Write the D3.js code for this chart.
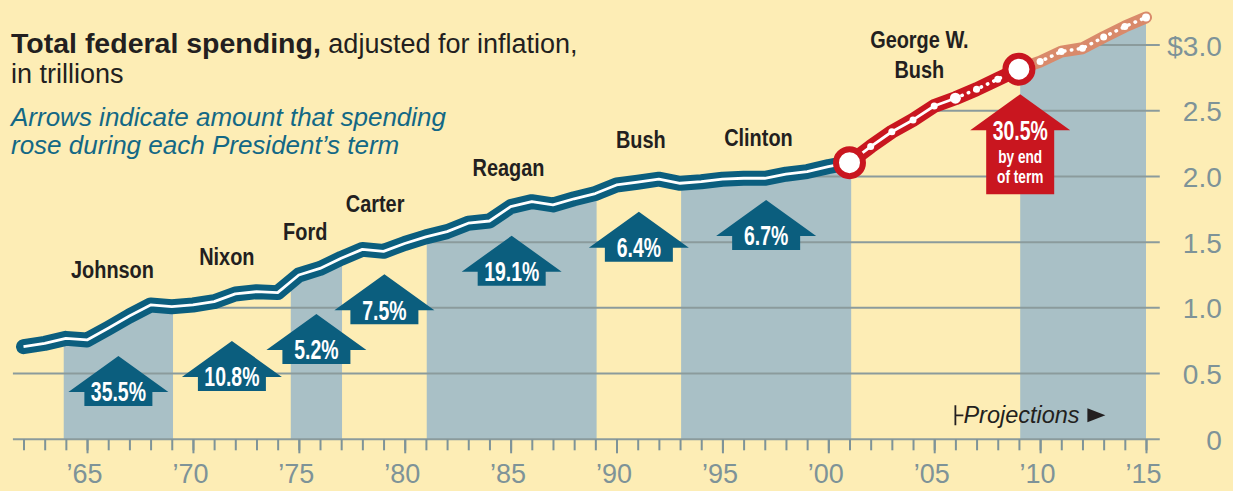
<!DOCTYPE html>
<html>
<head>
<meta charset="utf-8">
<script src="https://cdn.jsdelivr.net/npm/d3@7/dist/d3.min.js"></script>
<style>
  body { margin: 0; background: #fdedb5; }
  svg { display: block; }
</style>
</head>
<body>
<div class="main_contain"></div>
<script>
// spending per fiscal year, trillions (inflation adjusted)
var years = d3.range(1962, 2016);
var spending = [0.705, 0.73, 0.768, 0.756, 0.845, 0.938, 1.022, 1.009, 1.022, 1.047,
                1.106, 1.123, 1.116, 1.25, 1.30, 1.377, 1.445, 1.43, 1.49, 1.54,
                1.58, 1.644, 1.661, 1.77, 1.808, 1.783, 1.83, 1.87, 1.935, 1.956,
                1.979, 1.948, 1.96, 1.979, 1.986, 1.986, 2.017, 2.037, 2.075, 2.105,
                2.227, 2.34, 2.43, 2.536, 2.595, 2.663, 2.74, 2.816, 2.874, 2.95,
                2.975, 3.06, 3.14, 3.21];

var presidents = ["Johnson", "Nixon", "Ford", "Carter", "Reagan", "Bush", "Clinton", "George W.|Bush"];
var termStart  = [1963.9, 1969.06, 1974.62, 1977.04, 1981.04, 1989.06, 1993.05, 2001.08];
var termEnd    = [1969.06, 1974.62, 1977.04, 1981.04, 1989.06, 1993.05, 2001.08, 2009.06];
var pctRise    = ["35.5%", "10.8%", "5.2%", "7.5%", "19.1%", "6.4%", "6.7%", "30.5%"];
// where the arrow tip sits and where the name sits, in chart units (year, trillions)
var arrowTip   = [0.634, 0.748, 0.954, 1.256, 1.549, 1.732, 1.821, 2.626];
var labelYear  = [1966.2, 1971.6, 1975.3, 1978.6, 1984.9, 1991.15, 1996.7, 2004.3];
var labelValue = [1.227, 1.326, 1.516, 1.727, 2.006, 2.217, 2.232, 2.98];

var shadedBands = [[1963.9, 1969.06], [1974.62, 1977.04], [1981.04, 1989.06], [1993.05, 2001.08], [2009.06, 2015]];
var yTicks = [0, 0.5, 1, 1.5, 2, 2.5, 3];
var majorYears = [1965, 1970, 1975, 1980, 1985, 1990, 1995, 2000, 2005, 2010, 2015];
var actualEnd = 2006;   // projections start
var bushStart = 2001, bushEnd = 2009;

var data = years.map((yr, i) => ({year: yr, value: spending[i]}));

var svg_width = 1233, svg_height = 491;
var teal = "#0b5e7e", red = "#c9161f", salmon = "#d98a6b",
    band = "#a9c0c6", grid = "#8b9b9c", axisGrey = "#7e9398";

var svg = d3.select(".main_contain").append("svg")
            .attr("width", svg_width)
            .attr("height", svg_height)
            .style("background", "#fdedb5");

var x = d3.scaleLinear().domain([1962, 2015]).range([23.5, 1146]);
var y = d3.scaleLinear().domain([0, 3]).range([439.3, 45]);

var gridLeft = x(1961.5), gridRight = x(2015.65);

// year where the curve first reaches a value (gridlines only run below the curve)
function crossing(v){
  for (var i = 1; i < data.length; i++) {
    var a = data[i - 1], b = data[i];
    if (a.value < v && b.value >= v) {
      return a.year + (v - a.value) / (b.value - a.value);
    }
  }
  return null;
}

// shaded presidential terms, filled up to the curve
var area = d3.area().x(d => x(d.year)).y0(y(0)).y1(d => y(d.value));
var defs = svg.append("defs");
shadedBands.forEach(function(b, i){
  defs.append("clipPath").attr("id", "band" + i)
      .append("rect")
      .attr("x", x(b[0])).attr("width", x(b[1]) - x(b[0]))
      .attr("y", 0).attr("height", svg_height);
  svg.append("path")
     .datum(data)
     .attr("clip-path", "url(#band" + i + ")")
     .attr("d", area)
     .style("fill", band);
});

// gridlines
svg.selectAll("line.grid")
   .data(yTicks)
   .enter().append("line")
   .attr("class", "grid")
   .attr("x1", d => d <= data[0].value ? gridLeft : x(crossing(d)))
   .attr("x2", gridRight)
   .attr("y1", d => y(d)).attr("y2", d => y(d))
   .style("stroke", grid).style("stroke-width", 2);

// right axis labels
var yAxis = d3.axisRight(y)
              .tickValues(yTicks)
              .tickSize(0)
              .tickFormat(d => d == 3 ? "$3.0" : (d == 0 ? "0" : d3.format(".1f")(d)));
var yg = svg.append("g")
    .attr("class", "y axis")
    .attr("transform", "translate(" + gridRight + ",0)")
    .call(yAxis);
yg.select(".domain").remove();
yg.selectAll("line").remove();
yg.selectAll("text")
  .attr("x", 62).attr("dy", "0.36em")
  .style("text-anchor", "end")
  .style("fill", axisGrey)
  .style("font-family", "'Liberation Sans', Arial, sans-serif")
  .style("font-size", "28px");

// bottom axis: minor ticks every year, longer ones every 5 years
var xMinor = d3.axisBottom(x).tickValues(years).tickSize(11).tickFormat("");
var xMajor = d3.axisBottom(x).tickValues(majorYears).tickSize(14)
               .tickFormat(d => "\u2019" + String(d).slice(2));
var xg1 = svg.append("g").attr("transform", "translate(0," + y(0) + ")").call(xMinor);
xg1.select(".domain").remove();
var xg2 = svg.append("g").attr("transform", "translate(0," + y(0) + ")").call(xMajor);
xg2.select(".domain").remove();
svg.selectAll(".tick line").style("stroke", axisGrey).style("stroke-width", 2);
xg2.selectAll("text")
   .attr("y", 44).attr("dy", 0).attr("dx", -3)
   .style("fill", axisGrey)
   .style("font-family", "'Liberation Sans', Arial, sans-serif")
   .style("font-size", "27px");

// the spending line
var line = d3.line().x(d => x(d.year)).y(d => y(d.value));
var early = data.filter(d => d.year <= bushStart);
var bushPart = data.filter(d => d.year >= bushStart && d.year <= bushEnd);
var later = data.filter(d => d.year >= bushEnd);

svg.append("path").datum(later).attr("d", line)
   .style("fill", "none").style("stroke", salmon).style("stroke-width", 12)
   .style("stroke-linecap", "round").style("stroke-linejoin", "round");
svg.append("path").datum(bushPart).attr("d", line)
   .style("fill", "none").style("stroke", red).style("stroke-width", 14)
   .style("stroke-linejoin", "round");
svg.append("path").datum(early).attr("d", line)
   .style("fill", "none").style("stroke", teal).style("stroke-width", 15)
   .style("stroke-linecap", "round").style("stroke-linejoin", "round");

svg.append("path").datum(data.filter(d => d.year <= actualEnd)).attr("d", line)
   .style("fill", "none").style("stroke", "white").style("stroke-width", 2.8)
   .style("stroke-linejoin", "round");
svg.append("path").datum(data.filter(d => d.year >= actualEnd)).attr("d", line)
   .style("fill", "none").style("stroke", "white").style("stroke-width", 3.5)
   .style("stroke-dasharray", "0.5,6.5").style("stroke-linecap", "round");

svg.selectAll("circle.dot")
   .data(data.filter(d => d.year > bushStart && d.year != bushEnd))
   .enter().append("circle")
   .attr("class", "dot")
   .attr("cx", d => x(d.year)).attr("cy", d => y(d.value))
   .attr("r", d => d.year == actualEnd ? 5.5 : (d.year == 2015 ? 4 : 3.5))
   .style("fill", "white");

svg.selectAll("circle.big")
   .data(data.filter(d => d.year == bushStart || d.year == bushEnd))
   .enter().append("circle")
   .attr("class", "big")
   .attr("cx", d => x(d.year)).attr("cy", d => y(d.value))
   .attr("r", 13.5)
   .style("fill", "white").style("stroke", red).style("stroke-width", 6);

// arrows
function arrowPath(cx, ty, bodyH){
  return "M" + cx + "," + ty +
         "L" + (cx + 50) + "," + (ty + 36) +
         "L" + (cx + 34) + "," + (ty + 36) +
         "L" + (cx + 34) + "," + (ty + 36 + bodyH) +
         "L" + (cx - 34) + "," + (ty + 36 + bodyH) +
         "L" + (cx - 34) + "," + (ty + 36) +
         "L" + (cx - 50) + "," + (ty + 36) + "Z";
}

function condensed(sel, px, py, txt, size, sx, color){
  sel.append("text")
     .attr("transform", "translate(" + px + "," + py + ") scale(" + sx + ",1)")
     .attr("text-anchor", "middle")
     .style("font-family", "'Liberation Sans', Arial, sans-serif")
     .style("font-weight", "bold")
     .style("font-size", size + "px")
     .style("fill", color)
     .text(txt);
}

var ann = svg.append("g").attr("class", "annotations");
presidents.forEach(function(p, i){
  var last = i == presidents.length - 1;
  var cx = last ? x(termEnd[i]) : x((termStart[i] + termEnd[i]) / 2);
  var ty = y(arrowTip[i]);
  ann.append("path")
     .attr("d", arrowPath(cx, ty, last ? 64 : 14))
     .style("fill", last ? red : teal);
  condensed(ann, cx, ty + 45.5, pctRise[i], 27, 0.72, "white");
  if (last) {
    condensed(ann, cx, ty + 69, "by end", 18, 0.76, "white");
    condensed(ann, cx, ty + 89, "of term", 18, 0.76, "white");
  }
  var parts = p.split("|");
  parts.forEach(function(t, j){
    condensed(ann, x(labelYear[i]), y(labelValue[i]) + j * 30, t, 24, 0.83, "#231f20");
  });
});

// projections marker
var px = x(actualEnd), py = y(0) - 14;
var proj = svg.append("g");
proj.append("path")
    .attr("d", "M" + px + "," + (py - 20) + "V" + py + "M" + px + "," + (py - 10) + "H" + (px + 8))
    .style("stroke", "#231f20").style("stroke-width", 1.8).style("fill", "none");
proj.append("text")
    .attr("x", px + 8).attr("y", py - 2)
    .style("font-family", "'Liberation Sans', Arial, sans-serif")
    .style("font-style", "italic")
    .style("font-size", "23.5px")
    .style("fill", "#231f20")
    .text("Projections");
proj.append("path")
    .attr("d", "M" + (px + 132) + "," + (py - 17) + "L" + (px + 150) + "," + (py - 10) + "L" + (px + 132) + "," + (py - 3) + "Z")
    .style("fill", "#231f20");

// titles
var title = svg.append("text")
   .attr("x", 11).attr("y", 53)
   .style("font-family", "'Liberation Sans', Arial, sans-serif")
   .style("fill", "#231f20");
title.append("tspan").style("font-weight", "bold").style("font-size", "28.5px").text("Total federal spending,");
title.append("tspan").style("font-size", "27px").text(" adjusted for inflation,");
svg.append("text")
   .attr("x", 11).attr("y", 83)
   .style("font-family", "'Liberation Sans', Arial, sans-serif")
   .style("font-size", "27px")
   .style("fill", "#231f20")
   .text("in trillions");

var subtitle = ["Arrows indicate amount that spending", "rose during each President\u2019s term"];
svg.selectAll("text.sub")
   .data(subtitle)
   .enter().append("text")
   .attr("class", "sub")
   .attr("x", 11).attr("y", (d, i) => 126 + i * 28)
   .style("font-family", "'Liberation Sans', Arial, sans-serif")
   .style("font-style", "italic")
   .style("font-size", "26px")
   .style("fill", "#136885")
   .text(d => d);
</script>
</body>
</html>
